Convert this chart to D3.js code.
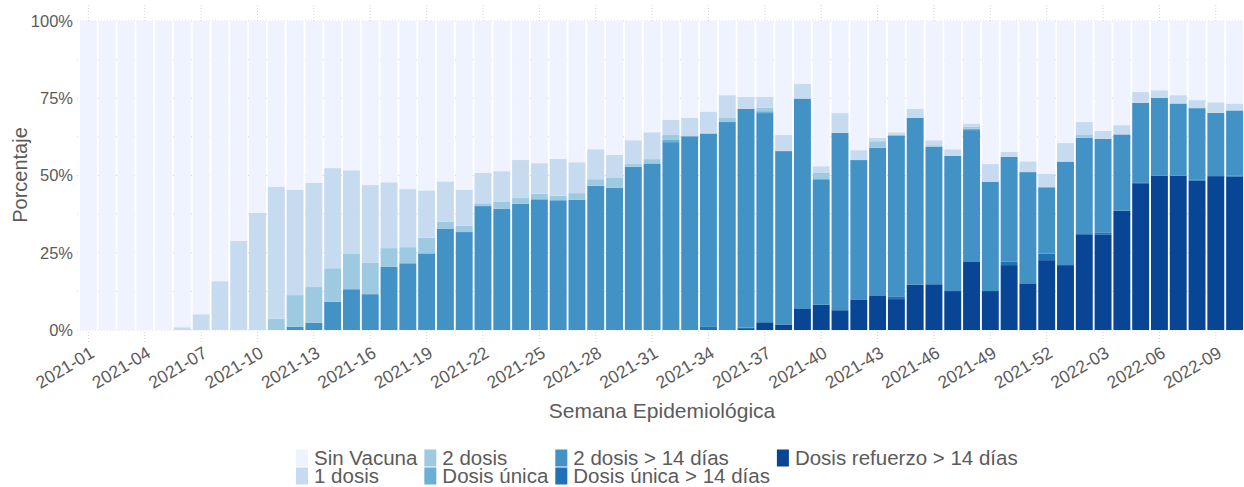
<!DOCTYPE html>
<html><head><meta charset="utf-8">
<script src="https://cdn.jsdelivr.net/npm/d3@7"></script>
<style>
html,body{margin:0;padding:0;background:#fff;}
text{font-family:"Liberation Sans",Arial,sans-serif;}
</style></head>
<body><svg id="c" width="1244" height="487"></svg>
<script>
const weeks = ["2021-01","2021-02","2021-03","2021-04","2021-05","2021-06","2021-07","2021-08","2021-09","2021-10",
"2021-11","2021-12","2021-13","2021-14","2021-15","2021-16","2021-17","2021-18","2021-19","2021-20",
"2021-21","2021-22","2021-23","2021-24","2021-25","2021-26","2021-27","2021-28","2021-29","2021-30",
"2021-31","2021-32","2021-33","2021-34","2021-35","2021-36","2021-37","2021-38","2021-39","2021-40",
"2021-41","2021-42","2021-43","2021-44","2021-45","2021-46","2021-47","2021-48","2021-49","2021-50",
"2021-51","2021-52","2022-01","2022-02","2022-03","2022-04","2022-05","2022-06","2022-07","2022-08",
"2022-09","2022-10"];
const tickLabels = ["2021-01","2021-04","2021-07","2021-10","2021-13","2021-16","2021-19","2021-22","2021-25","2021-28",
"2021-31","2021-34","2021-37","2021-40","2021-43","2021-46","2021-49","2021-52","2022-03","2022-06","2022-09"];
const yTicks = [0, 25, 50, 75, 100];

// series values (percent), bottom to top
const refuerzo14 = [0,0,0,0,0,0,0,0,0,0, 0,0,0,0,0,0,0,0,0,0, 0,0,0,0,0,0,0,0,0,0,
 0,0,0,0,0,0.3,2.5,1.8,6.8,8.2, 6.4,9.9,11.0,10.0,14.7,14.8,12.6,22.0,12.6,21.0,
 15.1,22.6,21.0,31.0,30.8,38.6,47.5,49.9,49.9,48.3, 49.8,49.6];
const unica14 = [0,0,0,0,0,0,0,0,0,0, 0,0,0,0,0,0,0,0,0,0, 0,0,0,0,0,0,0,0,0,0,
 0,0,0,1.0,0,0.5,0,0,0,0, 0,0,0,0.9,0,0,0,0,0,1.2,
 0,2.1,0,0,0.8,0,0.3,0,0,0.3, 0,0.3];
const dos14 = [0,0,0,0,0,0,0,0,0,0, 0,1.0,2.3,9.1,13.2,11.6,20.4,21.6,24.8,32.7,
 31.7,40.1,39.3,40.9,42.3,42.0,42.1,46.7,46.1,52.8, 53.9,60.8,62.7,62.5,67.3,70.8,67.7,56.1,68.1,40.6,
 57.4,45.1,48.0,52.1,54.0,44.5,43.8,42.7,35.3,33.8, 36.0,21.5,33.5,31.2,30.3,24.7,25.7,25.2,23.4,23.2, 20.5,21.1];
const unica = [0,0,0,0,0,0,0,0,0,0, 0,0,0,0,0,0,0,0,0,0, 0,0,0,0,0,0,0,0,0,0,
 0,0.7,0,0,0,0,0.6,0,0,0, 0,0,0,0,0,0,0,0.5,0,0,
 0,0,0,0,0,0,0,0,0,0, 0,0];
const dos = [0,0,0,0,0,0,0,0,0,0, 3.6,10.3,11.6,10.9,11.4,10.1,6.1,5.2,5.1,2.3,
 2.1,0.9,2.3,1.8,1.8,1.5,2.2,2.1,3.1,0.9, 1.4,1.6,0.3,0.3,1.3,0,1.2,0,0,2.2,
 0,0,2.1,0,0,0.5,0,0.6,0,0, 0,0,0,0.9,0,0,0,0,0,0, 0,0.4];
const una = [0,0,0,0,0,0.9,5.1,15.8,28.8,37.9, 42.8,34.1,33.7,32.4,27.1,25.2,21.3,18.8,15.3,13.1,
 11.6,9.8,9.8,12.3,9.9,11.9,10.0,9.7,7.5,7.7, 8.7,4.9,5.6,6.9,7.4,3.8,3.4,5.2,4.7,2.0,
 6.4,3.2,1.1,1.0,2.9,1.6,2.1,1.0,5.8,1.7, 3.5,4.3,6.0,4.2,2.5,3.0,3.5,2.5,2.7,2.6, 3.4,1.9];
const sinVacuna = [100,100,100,100,100,99.1,94.9,84.2,71.2,62.1, 53.6,54.6,52.4,47.6,48.3,53.1,52.2,54.4,54.8,51.9,
 54.6,49.2,48.6,45.0,46.0,44.6,45.7,41.5,43.3,38.6, 36.0,32.0,31.4,29.3,24.0,24.6,24.6,36.9,20.4,47.0,
 29.8,41.8,37.8,36.0,28.4,38.6,41.5,33.2,46.3,42.3, 45.4,49.5,39.5,32.7,35.6,33.7,23.0,22.4,24.0,25.6, 26.3,26.7];

const seriesNames = ["Dosis refuerzo > 14 días","Dosis única > 14 días","2 dosis > 14 días","Dosis única","2 dosis","1 dosis","Sin Vacuna"];
const seriesData = [refuerzo14, unica14, dos14, unica, dos, una, sinVacuna];
const colors = ["#084594","#2171b5","#4292c6","#6baed6","#9ecae1","#c6dbef","#eff3ff"];
const legendOrder = ["Sin Vacuna","1 dosis","2 dosis","Dosis única","2 dosis > 14 días","Dosis única > 14 días","Dosis refuerzo > 14 días"];

const rows = weeks.map((w,i)=>{const o={week:w}; seriesNames.forEach((s,j)=>o[s]=seriesData[j][i]); return o;});
const stacked = d3.stack().keys(seriesNames)(rows);

const svg = d3.select("#c");
const L=79, R=1244, T=21, B=330;
const x = d3.scaleBand().domain(weeks).range([L,R]).paddingInner(0.1).paddingOuter(0.05);
const y = d3.scaleLinear().domain([0,100]).range([B,T]);
const txt = "#5b5b5b", grid="#d4d4d4";

// grid
const g = svg.append("g");
g.selectAll("line.v").data(tickLabels).join("line")
 .attr("x1",d=>x(d)+x.bandwidth()/2).attr("x2",d=>x(d)+x.bandwidth()/2)
 .attr("y1",5).attr("y2",343).attr("stroke",grid).attr("stroke-width",1).attr("stroke-dasharray","1,2");
const hTicks = d3.range(0,101,12.5);
g.selectAll("line.h").data(hTicks).join("line")
 .attr("x1",L-2).attr("x2",R).attr("y1",d=>y(d)).attr("y2",d=>y(d))
 .attr("stroke",grid).attr("stroke-width",1).attr("stroke-dasharray","1,2");

// bars
svg.append("g").selectAll("g").data(stacked).join("g")
 .attr("fill",(d,i)=>colors[i])
 .selectAll("rect").data(d=>d).join("rect")
 .attr("x",d=>x(d.data.week)).attr("width",x.bandwidth())
 .attr("y",d=>y(d[1])).attr("height",d=>Math.max(0,y(d[0])-y(d[1])));

// y axis
const ya = svg.append("g").attr("transform",`translate(${L},0)`)
 .call(d3.axisLeft(y).tickValues(yTicks).tickFormat(d=>d+"%").tickSize(0).tickPadding(6));
ya.select(".domain").remove();
ya.selectAll("text").attr("fill",txt).style("font-size","16.5px").style("font-family","Liberation Sans, Arial, sans-serif");

// x axis
const xa = svg.append("g").attr("transform",`translate(0,${B+21})`)
 .call(d3.axisBottom(x).tickValues(tickLabels).tickSize(0).tickPadding(0));
xa.select(".domain").remove();
xa.selectAll("text").attr("fill",txt).style("font-size","17.5px").style("font-family","Liberation Sans, Arial, sans-serif")
 .attr("text-anchor","end").attr("dy","0.35em").attr("transform","translate(4,0) rotate(-31)");

// axis titles
svg.append("text").attr("x",662).attr("y",418).attr("text-anchor","middle").attr("fill",txt)
 .style("font-size","21px").text("Semana Epidemiológica");
svg.append("text").attr("transform","translate(27,175) rotate(-90)").attr("text-anchor","middle").attr("fill",txt)
 .style("font-size","20px").text("Porcentaje");

// legend (column-major, 2 rows)
const lg = svg.append("g");
const colorOf = n=>colors[seriesNames.indexOf(n)];
let cx = 296;
for(let c=0;c<4;c++){
  let maxW=0;
  for(let r=0;r<2;r++){
    const name = legendOrder[c*2+r]; if(!name) continue;
    const yy = 458 + r*18;
    lg.append("rect").attr("x",cx).attr("y",yy-8.5).attr("width",12).attr("height",17).attr("fill",colorOf(name));
    const t = lg.append("text").attr("x",cx+18).attr("y",yy).attr("dy","0.35em").attr("fill",txt)
      .style("font-size","20.5px").text(name);
    maxW = Math.max(maxW, t.node().getComputedTextLength());
  }
  cx += 18 + maxW + 7;
}
</script></body></html>
